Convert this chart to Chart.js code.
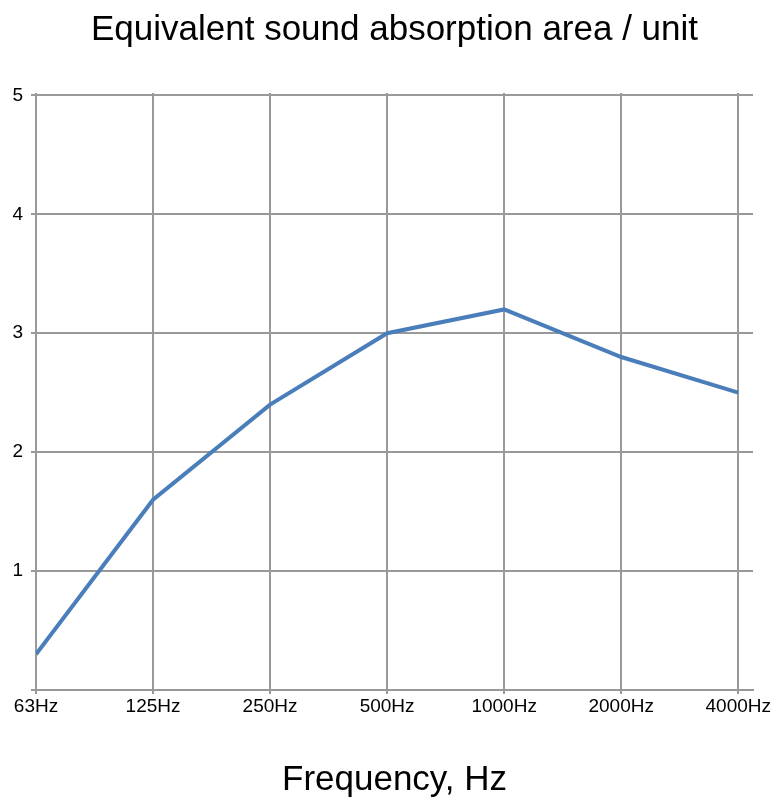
<!DOCTYPE html>
<html>
<head>
<meta charset="utf-8">
<script src="https://cdn.jsdelivr.net/npm/chart.js@4/dist/chart.umd.min.js"></script>
<style>
	html, body { margin: 0; padding: 0; background: #fff; }
	#wrap { position: relative; width: 783px; height: 800px; }
</style>
</head>
<body>
<div id="wrap"><canvas id="chart"></canvas></div>
<script>
const frequencies = ['63Hz', '125Hz', '250Hz', '500Hz', '1000Hz', '2000Hz', '4000Hz'];
const absorption = [0.3, 1.6, 2.4, 3.0, 3.2, 2.8, 2.5];
const yTicks = [0, 1, 2, 3, 4, 5];

const font = '"Liberation Sans", Arial, Helvetica, sans-serif';
const gridColor = '#999999';

const main = () => {
	const ctx = document.querySelector('#chart').getContext('2d');
	new Chart(ctx, {
		type: 'line',
		data: {
			datasets: [{
				data: absorption.map((v, i) => ({ x: i, y: v })),
				borderColor: '#4a7ebb',
				backgroundColor: 'transparent',
				borderWidth: 4,
				pointRadius: 0,
				tension: 0,
			}],
		},
		options: {
			responsive: true,
			maintainAspectRatio: false,
			animation: false,
			layout: { padding: { left: 0, right: 30, top: 0, bottom: 0 } },
			plugins: {
				legend: { display: false },
				tooltip: { enabled: false },
				title: {
					display: true,
					fullSize: false,
					text: 'Equivalent sound absorption area / unit',
					color: '#000',
					font: { family: font, size: 35, weight: 'normal', lineHeight: 1.2 },
					padding: { top: 9, bottom: 42 },
				},
			},
			scales: {
				x: {
					type: 'linear',
					min: 0,
					max: 6.126,
					afterBuildTicks: scale => {
						scale.ticks = frequencies.map((f, i) => ({ value: i }));
					},
					afterFit: scale => { scale.height = 110; },
					ticks: {
						color: '#000',
						font: { family: font, size: 19 },
						padding: 1,
						maxRotation: 0,
						autoSkip: false,
						callback: value => frequencies[value],
					},
					grid: { color: gridColor, lineWidth: 2, tickLength: 4 },
					border: { display: true, color: gridColor, width: 2 },
					title: {
						display: true,
						text: 'Frequency, Hz',
						color: '#000',
						font: { family: font, size: 35, lineHeight: 1.1 },
						padding: { top: 0, bottom: 0 },
					},
				},
				y: {
					min: 0,
					max: 5.02,
					afterBuildTicks: scale => {
						scale.ticks = yTicks.map(v => ({ value: v }));
					},
					afterFit: scale => { scale.width = 36; },
					ticks: {
						color: '#000',
						font: { family: font, size: 19 },
						padding: 8,
						callback: value => value === 0 ? '' : String(value),
					},
					grid: { color: gridColor, lineWidth: 2, tickLength: 5 },
					border: { display: false },
				},
			},
		},
	});
};
document.addEventListener('DOMContentLoaded', main);
</script>
</body>
</html>
